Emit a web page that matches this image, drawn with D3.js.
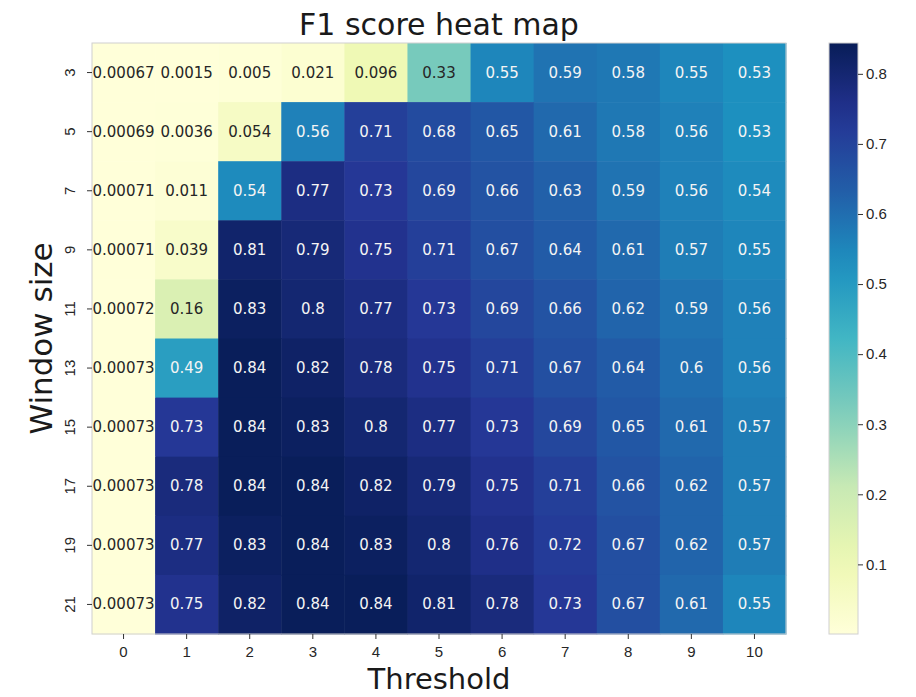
<!DOCTYPE html>
<html>
<head>
<meta charset="utf-8">
<script src="https://cdn.jsdelivr.net/npm/d3@7"></script>
<style>
  body { margin: 0; background: #fff; }
  svg { font-family: "DejaVu Sans", sans-serif; }
</style>
</head>
<body>
<svg width="916" height="697"></svg>
<script>
const thresholds = [0, 1, 2, 3, 4, 5, 6, 7, 8, 9, 10]
const windowSizes = [3, 5, 7, 9, 11, 13, 15, 17, 19, 21]
const f1Scores = [
  [0.00067, 0.0015, 0.005, 0.021, 0.096, 0.33, 0.55, 0.59, 0.58, 0.55, 0.53],
  [0.00069, 0.0036, 0.054, 0.56, 0.71, 0.68, 0.65, 0.61, 0.58, 0.56, 0.53],
  [0.00071, 0.011, 0.54, 0.77, 0.73, 0.69, 0.66, 0.63, 0.59, 0.56, 0.54],
  [0.00071, 0.039, 0.81, 0.79, 0.75, 0.71, 0.67, 0.64, 0.61, 0.57, 0.55],
  [0.00072, 0.16, 0.83, 0.8, 0.77, 0.73, 0.69, 0.66, 0.62, 0.59, 0.56],
  [0.00073, 0.49, 0.84, 0.82, 0.78, 0.75, 0.71, 0.67, 0.64, 0.6, 0.56],
  [0.00073, 0.73, 0.84, 0.83, 0.8, 0.77, 0.73, 0.69, 0.65, 0.61, 0.57],
  [0.00073, 0.78, 0.84, 0.84, 0.82, 0.79, 0.75, 0.71, 0.66, 0.62, 0.57],
  [0.00073, 0.77, 0.83, 0.84, 0.83, 0.8, 0.76, 0.72, 0.67, 0.62, 0.57],
  [0.00073, 0.75, 0.82, 0.84, 0.84, 0.81, 0.78, 0.73, 0.67, 0.61, 0.55],
]
const colorDomain = [0.00067, 0.844]
const colorbarTicks = [0.1, 0.2, 0.3, 0.4, 0.5, 0.6, 0.7, 0.8]

const svg = d3.select("svg")
const plot = { left: 92, top: 43, width: 694, height: 591 }
const bar = { left: 829, width: 29 }

// matplotlib YlGnBu is a linear ramp through the brewer colours
const color = d3
  .scaleSequential(d3.piecewise(d3.interpolateRgb, d3.schemeYlGnBu[9]))
  .domain(colorDomain)

const x = d3.scaleBand().domain(thresholds).range([0, plot.width])
const y = d3.scaleBand().domain(windowSizes).range([0, plot.height])

const cells = []
windowSizes.forEach((w, i) =>
  thresholds.forEach((t, j) => cells.push({ w, t, v: f1Scores[i][j] }))
)

const g = svg.append("g").attr("transform", `translate(${plot.left},${plot.top})`)

g.selectAll("rect.cell")
  .data(cells)
  .join("rect")
  .attr("class", "cell")
  .attr("x", (d) => x(d.t))
  .attr("y", (d) => y(d.w))
  .attr("width", x.bandwidth() + 0.5)
  .attr("height", y.bandwidth() + 0.5)
  .attr("fill", (d) => color(d.v))

// same rule seaborn uses for annotation colour
function textColor(v) {
  const c = d3.rgb(color(v))
  const lin = [c.r, c.g, c.b].map((u) => {
    u /= 255
    return u <= 0.03928 ? u / 12.92 : Math.pow((u + 0.055) / 1.055, 2.4)
  })
  const lum = 0.2126 * lin[0] + 0.7152 * lin[1] + 0.0722 * lin[2]
  return lum > 0.408 ? "#262626" : "#f4f4f4"
}

const fmt = d3.format(".2~g")
g.selectAll("text.annot")
  .data(cells)
  .join("text")
  .attr("class", "annot")
  .attr("x", (d) => x(d.t) + x.bandwidth() / 2)
  .attr("y", (d) => y(d.w) + y.bandwidth() / 2)
  .attr("text-anchor", "middle")
  .attr("dominant-baseline", "central")
  .attr("font-size", 15)
  .attr("fill", (d) => textColor(d.v))
  .text((d) => fmt(d.v))

g.append("rect")
  .attr("width", plot.width)
  .attr("height", plot.height)
  .attr("fill", "none")
  .attr("stroke", "#d0d0d0")
  .attr("stroke-width", 1)

const xAxis = g
  .append("g")
  .attr("transform", `translate(0,${plot.height})`)
  .call(d3.axisBottom(x).tickSize(5).tickPadding(7))
const yAxis = g.append("g").call(d3.axisLeft(y).tickSize(5).tickPadding(4))

xAxis.selectAll("text").attr("font-size", 15).attr("fill", "#262626")
yAxis
  .selectAll("text")
  .attr("font-size", 15)
  .attr("fill", "#262626")
  .attr("text-anchor", "middle")
  .attr("dy", 0)
  .attr("transform", "rotate(-90)")
  .attr("x", 0)
  .attr("y", -17)
;[xAxis, yAxis].forEach((a) => {
  a.select(".domain").remove()
  a.selectAll("line").attr("stroke", "#333")
})

svg
  .append("text")
  .attr("x", plot.left + plot.width / 2)
  .attr("y", 35)
  .attr("text-anchor", "middle")
  .attr("font-size", 30)
  .attr("fill", "#1a1a1a")
  .text("F1 score heat map")

svg
  .append("text")
  .attr("x", plot.left + plot.width / 2)
  .attr("y", 689)
  .attr("text-anchor", "middle")
  .attr("font-size", 29)
  .attr("fill", "#1a1a1a")
  .text("Threshold")

svg
  .append("text")
  .attr("transform", `translate(52,${plot.top + plot.height / 2}) rotate(-90)`)
  .attr("text-anchor", "middle")
  .attr("font-size", 31)
  .attr("fill", "#1a1a1a")
  .text("Window size")

// colorbar
const defs = svg.append("defs")
const grad = defs
  .append("linearGradient")
  .attr("id", "cbar")
  .attr("x1", "0%")
  .attr("x2", "0%")
  .attr("y1", "100%")
  .attr("y2", "0%")
d3.range(0, 1.0001, 0.05).forEach((p) =>
  grad
    .append("stop")
    .attr("offset", `${p * 100}%`)
    .attr("stop-color", color(colorDomain[0] + p * (colorDomain[1] - colorDomain[0])))
)

const cy = d3.scaleLinear().domain(colorDomain).range([plot.top + plot.height, plot.top])

svg
  .append("rect")
  .attr("x", bar.left)
  .attr("y", plot.top)
  .attr("width", bar.width)
  .attr("height", plot.height)
  .attr("fill", "url(#cbar)")
  .attr("stroke", "#d0d0d0")

const cAxis = svg
  .append("g")
  .attr("transform", `translate(${bar.left + bar.width},0)`)
  .call(d3.axisRight(cy).tickValues(colorbarTicks).tickFormat(d3.format(".1f")).tickSize(5).tickPadding(3))
cAxis.select(".domain").remove()
cAxis.selectAll("line").attr("stroke", "#333")
cAxis.selectAll("text").attr("font-size", 15).attr("fill", "#262626")
</script>
</body>
</html>
